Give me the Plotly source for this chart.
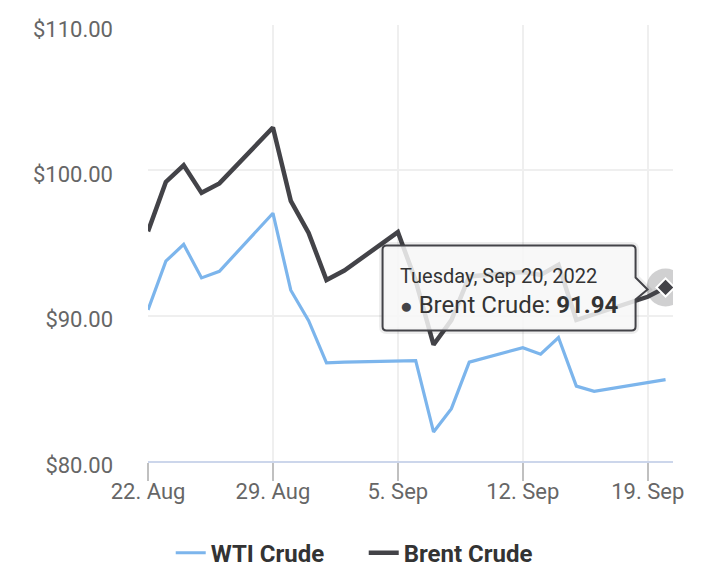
import plotly.graph_objects as go
import pandas as pd

# ---- data ----
wti_dates = ["2022-08-22", "2022-08-23", "2022-08-24", "2022-08-25", "2022-08-26",
             "2022-08-29", "2022-08-30", "2022-08-31", "2022-09-01", "2022-09-02",
             "2022-09-06", "2022-09-07", "2022-09-08", "2022-09-09",
             "2022-09-12", "2022-09-13", "2022-09-14", "2022-09-15", "2022-09-16",
             "2022-09-19", "2022-09-20"]
wti_values = [90.4, 93.75, 94.9, 92.6, 93.05,
              97.05, 91.75, 89.65, 86.75, 86.8,
              86.9, 82.0, 83.6, 86.8,
              87.8, 87.35, 88.5, 85.15, 84.8,
              85.4, 85.6]

brent_dates = ["2022-08-22", "2022-08-23", "2022-08-24", "2022-08-25", "2022-08-26",
               "2022-08-29", "2022-08-30", "2022-08-31", "2022-09-01", "2022-09-02",
               "2022-09-05", "2022-09-06", "2022-09-07", "2022-09-08", "2022-09-09",
               "2022-09-12", "2022-09-13", "2022-09-14", "2022-09-15", "2022-09-16",
               "2022-09-19", "2022-09-20"]
brent_values = [95.8, 99.2, 100.35, 98.45, 99.1,
                102.95, 97.9, 95.7, 92.45, 93.1,
                95.75, 92.4, 88.0, 89.7, 92.7,
                93.0, 92.8, 93.5, 89.7, 90.1,
                91.3, 91.94]

x_tickvals = ["2022-08-22", "2022-08-29", "2022-09-05", "2022-09-12", "2022-09-19"]
x_ticktext = ["22. Aug", "29. Aug", "5. Sep", "12. Sep", "19. Sep"]
y_tickvals = [80, 90, 100, 110]
y_ticktext = ["$80.00", "$90.00", "$100.00", "$110.00"]

WTI_COLOR = "#7cb5ec"
BRENT_COLOR = "#434348"
FONT = "Roboto"

fig = go.Figure()
fig.add_trace(go.Scatter(x=wti_dates, y=wti_values, mode="lines", name="WTI Crude",
                         line=dict(color=WTI_COLOR, width=3.2)))
fig.add_trace(go.Scatter(x=brent_dates, y=brent_values, mode="lines", name="Brent Crude",
                         line=dict(color=BRENT_COLOR, width=4.5)))

# hovered point: halo + diamond marker
last_date = brent_dates[-1]
last_val = brent_values[-1]
fig.add_trace(go.Scatter(x=[last_date], y=[last_val], mode="markers", showlegend=False,
                         marker=dict(size=38, color="rgba(67,67,72,0.25)", line=dict(width=0))))
fig.add_trace(go.Scatter(x=[last_date], y=[last_val], mode="markers", showlegend=False,
                         marker=dict(size=14, symbol="diamond", color=BRENT_COLOR,
                                     line=dict(color="white", width=2))))

# tooltip callout (pixel offsets relative to hovered point)
L, R, T, B, r = -283, -30, 42, -43, 4
callout = (f"M {L+r},{T} L {R-r},{T} Q {R},{T} {R},{T-r} L {R},10 L -18,-2 L {R},-12 "
           f"L {R},{B+r} Q {R},{B} {R-r},{B} L {L+r},{B} Q {L},{B} {L},{B+r} "
           f"L {L},{T-r} Q {L},{T} {L+r},{T} Z")
common = dict(type="path", xref="x", yref="y", xsizemode="pixel", ysizemode="pixel",
              xanchor=last_date, yanchor=last_val, layer="above")
fig.add_shape(path=callout, line=dict(color="rgba(0,0,0,0.07)", width=7),
              fillcolor="rgba(0,0,0,0)", **common)
fig.add_shape(path=callout, line=dict(color=BRENT_COLOR, width=2),
              fillcolor="rgba(247,247,247,0.85)", **common)

header = pd.Timestamp(last_date).strftime("%A, %b %d, %Y")
fig.add_annotation(x=last_date, y=last_val, xref="x", yref="y", showarrow=False,
                   text=header, xanchor="left", yanchor="middle", xshift=-268, yshift=11,
                   font=dict(family=FONT, size=20, color="#333333"))
fig.add_annotation(x=last_date, y=last_val, xref="x", yref="y", showarrow=False,
                   text=f"<span style='color:{BRENT_COLOR};font-size:21px'>●</span> Brent Crude: <b>{last_val:.2f}</b>",
                   xanchor="left", yanchor="middle", xshift=-268, yshift=-18,
                   font=dict(family=FONT, size=24, color="#333333"))

fig.update_layout(
    width=716, height=578,
    margin=dict(l=148, r=43, t=25, b=117),
    paper_bgcolor="white", plot_bgcolor="white",
    font=dict(family=FONT, color="#666666"),
    hovermode=False,
    showlegend=True,
    legend=dict(orientation="h", xref="container", yref="container",
                x=0.508, xanchor="center", y=0.043, yanchor="middle",
                font=dict(family=FONT, size=24, color="#333333", weight="bold"),
                itemwidth=30, entrywidth=148, entrywidthmode="pixels",
                bgcolor="rgba(0,0,0,0)"),
    xaxis=dict(type="date", range=["2022-08-22", "2022-09-20 10:00"],
               tickvals=x_tickvals, ticktext=x_ticktext,
               showgrid=True, gridcolor="#efefef", gridwidth=2,
               showline=True, linecolor="#ccd6eb", linewidth=2,
               ticks="outside", ticklen=18, tickwidth=2, tickcolor="#c0c0c0",
               ticklabelstandoff=-8,
               tickfont=dict(family=FONT, size=22, color="#666666"),
               zeroline=False, fixedrange=True),
    yaxis=dict(range=[80, 110], tickvals=y_tickvals, ticktext=y_ticktext,
               showgrid=True, gridcolor="#efefef", gridwidth=2,
               showline=False, ticks="", ticklabelstandoff=34, ticklabelshift=4,
               tickfont=dict(family=FONT, size=22, color="#666666"),
               zeroline=False, fixedrange=True),
)

fig.write_html("out.html")
